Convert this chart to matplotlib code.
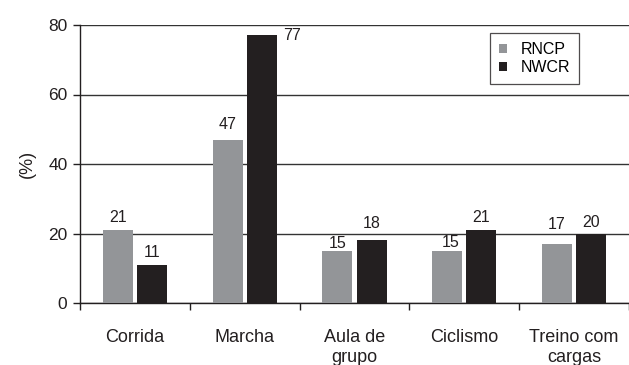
import matplotlib
matplotlib.use("Agg")
import matplotlib.pyplot as plt
import numpy as np

categories = ["Corrida", "Marcha", "Aula de\ngrupo", "Ciclismo", "Treino com\ncargas"]
rncp = [21, 47, 15, 15, 17]
nwcr = [11, 77, 18, 21, 20]
series_names = ["RNCP", "NWCR"]
y_ticks = [0, 20, 40, 60, 80]

# label offsets in pixels (dx, dy) from the top-centre of each bar
rncp_offsets = [(0, 13), (0, 15), (0, 7), (3, 8), (0, 19)]
nwcr_offsets = [(0, 12), (30, 0), (0, 17), (0, 13), (0, 11)]

gray = "#939598"
black = "#231f20"

plt.rcParams["font.family"] = ["Liberation Sans", "DejaVu Sans"]

fig = plt.figure(figsize=(6.29, 3.65), dpi=100)
ax = fig.add_axes([80 / 629, 1 - 303 / 365, 1 - 80 / 629, (303 - 25) / 365])

x = np.arange(len(categories))
w = 0.273
off = 0.155
b1 = ax.bar(x - off, rncp, w, color=gray, label=series_names[0], zorder=3)
b2 = ax.bar(x + off, nwcr, w, color=black, label=series_names[1], zorder=3)

for bars, vals, offs in ((b1, rncp, rncp_offsets), (b2, nwcr, nwcr_offsets)):
    for rect, v, (dx, dy) in zip(bars, vals, offs):
        ax.annotate(str(v), (rect.get_x() + rect.get_width() / 2, v),
                    xytext=(dx, dy), textcoords="offset pixels",
                    ha="center", va="center", fontsize=11.5, color="#231f20")

ax.set_xlim(-0.5, len(categories) - 0.5)
ax.set_ylim(0, 80)
ax.set_yticks(y_ticks)
ax.yaxis.grid(True, color="#333333", linewidth=1.0, zorder=0)
ax.set_axisbelow(True)

ax.set_xticks(np.arange(len(categories) + 1) - 0.5)
ax.set_xticklabels([])
ax.set_xticks(x, minor=True)
ax.set_xticklabels(categories, minor=True, fontsize=13, color="#231f20",
                   linespacing=1.2, va="top")
ax.tick_params(axis="x", which="minor", length=0, pad=19)
ax.tick_params(axis="x", which="major", length=5, width=1, direction="out", colors="#231f20")
ax.tick_params(axis="y", length=5, width=1, labelsize=12.5, colors="#231f20", pad=4)

for s in ("top", "right"):
    ax.spines[s].set_visible(False)
for s in ("left", "bottom"):
    ax.spines[s].set_color("#231f20")
    ax.spines[s].set_linewidth(1.0)

ax.set_ylabel("(%)", fontsize=13, color="#231f20", labelpad=9)

leg = ax.legend(loc="upper left", bbox_to_anchor=((490 - 80) / 549, 1 - (33 - 25) / 278),
                fontsize=11.5, frameon=True, fancybox=False, handlelength=0.5,
                handleheight=0.5, handletextpad=0.9, borderpad=0.55,
                labelspacing=0.2, borderaxespad=0)
leg.get_frame().set_edgecolor("#231f20")
leg.get_frame().set_linewidth(0.9)

fig.savefig("out.png", dpi=100)
